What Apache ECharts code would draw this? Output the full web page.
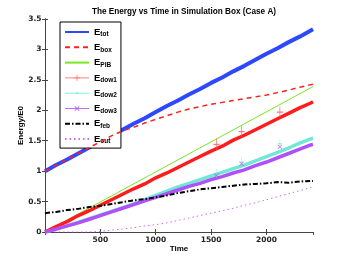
<!DOCTYPE html>
<html>
<head>
<meta charset="utf-8">
<script src="https://cdn.jsdelivr.net/npm/echarts@6/dist/echarts.min.js"></script>
<style>
  html, body { margin: 0; padding: 0; background: #fff; }
  #chart { width: 346px; height: 261px; }
</style>
</head>
<body>
<div id="chart"></div>
<script>
// time samples shared by the noisy series
const times = [0, 100, 200, 300, 400, 500, 600, 700, 800, 900, 1000, 1100, 1200, 1300,
  1400, 1500, 1600, 1700, 1800, 1900, 2000, 2100, 2200, 2300, 2400, 2420];

const eTot = [1.00, 1.10, 1.19, 1.29, 1.39, 1.48, 1.58, 1.68, 1.78, 1.87, 1.97, 2.07, 2.16, 2.26,
  2.35, 2.45, 2.54, 2.64, 2.73, 2.83, 2.93, 3.02, 3.12, 3.21, 3.31, 3.33];
const eBox = [1.00, 1.10, 1.19, 1.29, 1.39, 1.48, 1.58, 1.66, 1.72, 1.79, 1.85, 1.91, 1.97, 2.02,
  2.06, 2.10, 2.13, 2.16, 2.19, 2.22, 2.25, 2.29, 2.33, 2.38, 2.42, 2.43];
const pibTimes = [0, 2420];
const ePIB = [0, 2.39];
const eDow1 = [0.00, 0.09, 0.17, 0.27, 0.35, 0.44, 0.53, 0.62, 0.71, 0.79, 0.89, 0.97, 1.06, 1.15,
  1.24, 1.33, 1.41, 1.51, 1.59, 1.68, 1.77, 1.86, 1.95, 2.04, 2.12, 2.14];
const eDow2 = [0.00, 0.05, 0.10, 0.16, 0.22, 0.28, 0.34, 0.40, 0.46, 0.53, 0.60, 0.67, 0.74, 0.80,
  0.86, 0.92, 0.98, 1.04, 1.10, 1.17, 1.24, 1.31, 1.38, 1.46, 1.53, 1.54];
const eDow3 = [0.00, 0.05, 0.10, 0.15, 0.21, 0.27, 0.33, 0.39, 0.45, 0.51, 0.57, 0.63, 0.69, 0.75,
  0.80, 0.86, 0.91, 0.97, 1.02, 1.09, 1.15, 1.22, 1.29, 1.36, 1.43, 1.44];
const eFeb = [0.31, 0.33, 0.36, 0.38, 0.41, 0.43, 0.46, 0.49, 0.52, 0.54, 0.57, 0.60, 0.64, 0.67,
  0.70, 0.72, 0.74, 0.76, 0.78, 0.79, 0.80, 0.82, 0.81, 0.83, 0.84, 0.84];
const eOut = [0.00, 0.00, 0.00, 0.00, 0.00, 0.01, 0.03, 0.05, 0.07, 0.10, 0.12, 0.15, 0.19, 0.23,
  0.27, 0.31, 0.35, 0.39, 0.44, 0.48, 0.53, 0.58, 0.63, 0.68, 0.73, 0.74];

// outlier spikes carrying the markers
const spikeTimes = [1548, 1775, 2121];
const dow1Spikes = [1.44, 1.65, 1.97];
const dow2Spikes = [0.96, 1.15, 1.45];
const dow3Spikes = [0.93, 1.12, 1.40];

const legendNames = ['tot', 'box', 'PIB', 'dow1', 'dow2', 'dow3', 'feb', 'out'];

const plusPath = 'path://M4.4,0H5.6V4.4H10V5.6H5.6V10H4.4V5.6H0V4.4H4.4Z';
// small dot inside an almost invisible 10x10 frame so it stays tiny in the legend
const dotPath = 'path://M0,0H0.05V0.05H0Z M4,4H6V6H4Z M9.95,9.95H10V10H9.95Z';

function pairs(xs, ys) {
  return xs.map((x, i) => [x, ys[i]]);
}

function markedLine(xs, ys) {
  // markers only show in the legend, not on every sample
  return xs.map((x, i) => ({ value: [x, ys[i]], symbol: 'none' }));
}

// legend look for each entry: thin lines for the noisy ones, no marker on plain ones
const legendLook = {
  tot: { itemStyle: { opacity: 0 } },
  box: { itemStyle: { opacity: 0 } },
  PIB: { itemStyle: { opacity: 0 } },
  dow1: { lineStyle: { width: 1, color: '#ff8080' } },
  dow2: { lineStyle: { width: 1, color: '#80f0e0' } },
  dow3: { lineStyle: { width: 1, color: '#c070ff' } },
  feb: { itemStyle: { opacity: 0 } },
  out: { itemStyle: { opacity: 0 } }
};

const chart = echarts.init(document.getElementById('chart'));

const axisCommon = {
  axisLine: { show: true, lineStyle: { color: '#444', width: 1 } },
  axisTick: { show: true, inside: true, length: 3, lineStyle: { color: '#444' } },
  splitLine: { show: false }
};

const tickFont = { fontFamily: 'DejaVu Sans', fontSize: 7.5, fontWeight: 'bold', color: '#222' };
const nameFont = { fontFamily: 'Liberation Sans', fontSize: 8, fontWeight: 'bold', color: '#000' };

const option = {
  animation: false,
  backgroundColor: '#fff',
  title: {
    text: 'The Energy vs Time in Simulation Box (Case A)',
    left: 179, top: 3, textAlign: 'center',
    textStyle: { fontFamily: 'Liberation Sans', fontSize: 8.2, fontWeight: 'bold', color: '#000' }
  },
  grid: { left: 45, right: 33, top: 19, bottom: 29 },
  xAxis: [
    Object.assign({
      type: 'value', min: 0, max: 2420, interval: 500,
      name: 'Time', nameLocation: 'middle', nameGap: 13, nameMoveOverlap: false,
      nameTextStyle: nameFont,
      axisLabel: Object.assign({ showMinLabel: false, showMaxLabel: false, margin: 4,
        formatter: v => String(v) }, tickFont)
    }, axisCommon),
    Object.assign({
      type: 'value', min: 0, max: 2420, interval: 500, position: 'top',
      axisLabel: { show: false }
    }, axisCommon)
  ],
  yAxis: [
    Object.assign({
      type: 'value', min: 0, max: 3.5, interval: 0.5,
      name: 'Energy/E0', nameLocation: 'middle', nameGap: 20, nameRotate: 90, nameMoveOverlap: false,
      nameTextStyle: nameFont,
      axisLabel: Object.assign({ margin: 3.5 }, tickFont)
    }, axisCommon),
    Object.assign({
      type: 'value', min: 0, max: 3.5, interval: 0.5, position: 'right',
      axisLabel: { show: false }
    }, axisCommon)
  ],
  legend: {
    orient: 'vertical', left: 60, top: 22,
    backgroundColor: '#fff', borderColor: '#000', borderWidth: 1, borderRadius: 0,
    padding: [4, 4, 3, 4], itemWidth: 24, itemHeight: 8, itemGap: 3.3,
    data: legendNames.map(n => Object.assign({ name: 'E' + n }, legendLook[n])),
    formatter: name => '{e|E}{s|' + name.slice(1) + '}',
    textStyle: {
      color: '#000',
      rich: {
        e: { fontFamily: 'Liberation Sans', fontSize: 9.5, fontWeight: 'bold', lineHeight: 13 },
        s: { fontFamily: 'Liberation Sans', fontSize: 6.5, fontWeight: 'bold', lineHeight: 13, padding: [5, 0, 0, 0] }
      }
    }
  },
  series: [
    { name: 'Etot', type: 'line', data: pairs(times, eTot), symbol: 'none', z: 3,
      lineStyle: { color: '#2d48ff', width: 4 }, itemStyle: { color: '#2d48ff' } },
    { name: 'Ebox', type: 'line', data: pairs(times, eBox), symbol: 'none', z: 4,
      lineStyle: { color: '#ff2020', width: 1.5, type: [5, 4] }, itemStyle: { color: '#ff2020' } },
    { name: 'EPIB', type: 'line', data: pairs(pibTimes, ePIB), symbol: 'none', z: 2,
      lineStyle: { color: '#77e820', width: 1 }, itemStyle: { color: '#77e820' } },
    { name: 'Edow1', type: 'line', data: markedLine(times, eDow1), symbol: plusPath, symbolSize: 7, z: 3,
      lineStyle: { color: '#ff1c1c', width: 3.5 }, itemStyle: { color: '#ff7878' } },
    { name: 'Edow2', type: 'line', data: markedLine(times, eDow2), symbol: dotPath, symbolSize: 6, z: 2,
      lineStyle: { color: '#6fe8d6', width: 3.5 }, itemStyle: { color: '#5fd8c6' } },
    { name: 'Edow3', type: 'line', data: markedLine(times, eDow3), symbol: plusPath, symbolRotate: 45, symbolSize: 6, z: 3,
      lineStyle: { color: '#b050f8', width: 3.5 }, itemStyle: { color: '#b050f8' } },
    { name: 'Efeb', type: 'line', data: pairs(times, eFeb), symbol: 'none', z: 4,
      lineStyle: { color: '#000', width: 2, type: [5, 2, 1.5, 2] }, itemStyle: { color: '#000' } },
    { name: 'Eout', type: 'line', data: pairs(times, eOut), symbol: 'none', z: 2,
      lineStyle: { color: '#cc66ff', width: 1, type: [1.5, 3] }, itemStyle: { color: '#cc66ff' } },
    { name: 'Edow1', type: 'scatter', data: pairs(spikeTimes, dow1Spikes), symbol: plusPath, symbolSize: [6, 11], z: 5,
      itemStyle: { color: '#ff5050' } },
    { name: 'Edow2', type: 'scatter', data: pairs(spikeTimes, dow2Spikes), symbol: plusPath, symbolSize: [4, 9], z: 4,
      itemStyle: { color: '#6fe8d6' } },
    { name: 'Edow3', type: 'scatter', data: pairs(spikeTimes, dow3Spikes), symbol: plusPath, symbolRotate: 45, symbolSize: 6, z: 5,
      itemStyle: { color: '#b050f8' } }
  ]
};

chart.setOption(option);
</script>
</body>
</html>
